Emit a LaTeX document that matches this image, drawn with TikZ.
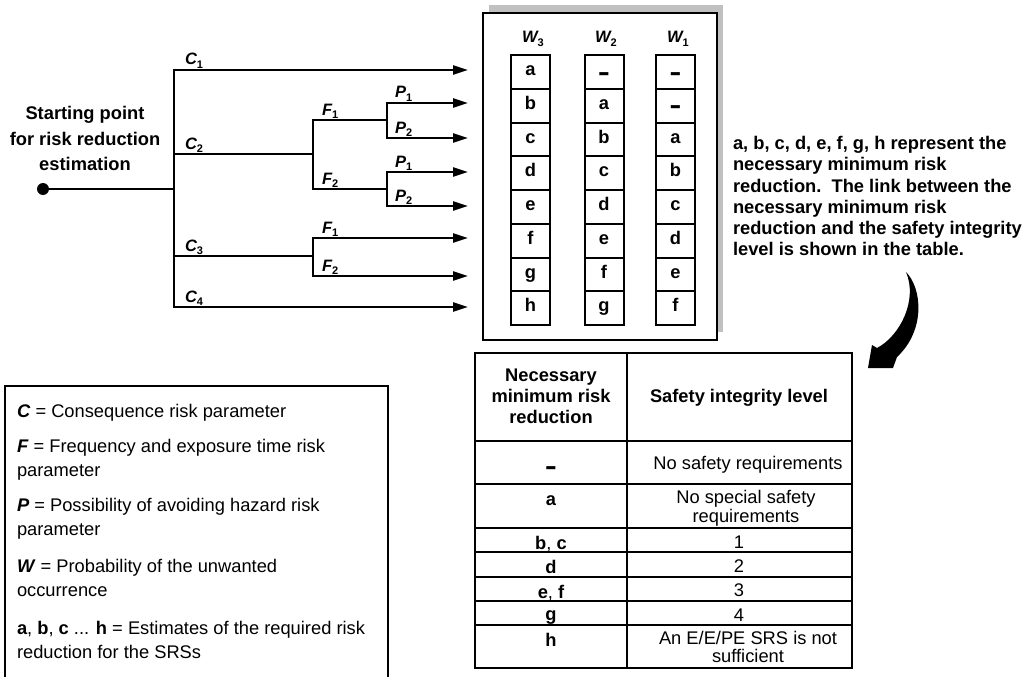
\documentclass[tikz,border=0pt]{standalone}
\usepackage{fontspec}
\setmainfont{Liberation Sans}
\usepackage{graphicx}
\usetikzlibrary{arrows.meta}
\definecolor{shadowgray}{RGB}{192,192,192}
\newcommand{\lsub}[1]{\raisebox{-3.8pt}{\fontsize{11}{11}\selectfont\bfseries\upshape #1}}
\newcommand{\thickdash}{\raisebox{-6.5pt}{\scalebox{1}[1.7]{\bfseries –}}}
\begin{document}
\begin{tikzpicture}[x=1pt,y=-1pt,
  every node/.style={inner sep=0pt,outer sep=0pt},
  tree/.style={line width=2.5pt},
  arr/.style={line width=2.5pt,-{Triangle[length=15pt,width=9pt]}},
  brlab/.style={anchor=base west,font=\fontsize{16.5}{16.5}\selectfont\bfseries\itshape},
  wlab/.style={anchor=base,font=\fontsize{16.5}{16.5}\selectfont\bfseries\itshape},
  cell/.style={draw,line width=2pt,minimum width=39pt,minimum height=33.75pt,
    font=\fontsize{18.3}{20}\selectfont\bfseries,text height=10pt,text depth=2.4pt},
  boldtxt/.style={font=\fontsize{18.3}{21.2}\selectfont\bfseries},
  starttxt/.style={font=\fontsize{18.3}{25.5}\selectfont\bfseries},
  headtxt/.style={font=\fontsize{18.3}{21}\selectfont\bfseries},
  regtxt/.style={font=\fontsize{18.3}{18.5}\selectfont},
  legtxt/.style={font=\fontsize{18.3}{24}\selectfont},
  tbl/.style={line width=2.2pt},
  frame/.style={line width=2pt}
]
\useasboundingbox (0,0) rectangle (1029,677);

% ---------- tree ----------
\node[circle,fill,minimum size=12pt] (start) at (43,189) {};
\coordinate (j0) at (174,189);
\coordinate (jc2) at (313,154);
\coordinate (jc3) at (313,256);
\coordinate (jf1) at (387,120);
\coordinate (jf2) at (387,189);
\coordinate (t1) at (468,70);
\coordinate (t2) at (468,103);
\coordinate (t3) at (468,138);
\coordinate (t4) at (468,172);
\coordinate (t5) at (468,206);
\coordinate (t6) at (468,238);
\coordinate (t7) at (468,276);
\coordinate (t8) at (468,307);

\draw[tree] (start) -- (j0);
\draw[arr] (j0) |- (t1);
\draw[arr] (j0) |- (t8);
\draw[tree] (j0) |- (jc2);
\draw[tree] (j0) |- (jc3);
\draw[tree] (jc2) |- (jf1);
\draw[tree] (jc2) |- (jf2);
\draw[arr] (jf1) |- (t2);
\draw[arr] (jf1) |- (t3);
\draw[arr] (jf2) |- (t4);
\draw[arr] (jf2) |- (t5);
\draw[arr] (jc3) |- (t6);
\draw[arr] (jc3) |- (t7);

\node[brlab] (lc1) at (185,65) {C\lsub{1}};
\node[brlab] (lc2) at (185,149) {C\lsub{2}};
\node[brlab] (lc3) at (185,251) {C\lsub{3}};
\node[brlab] (lc4) at (185,302) {C\lsub{4}};
\node[brlab] (lf1) at (322,115) {F\lsub{1}};
\node[brlab] (lf2) at (322,184) {F\lsub{2}};
\node[brlab] (lf3) at (322,233) {F\lsub{1}};
\node[brlab] (lf4) at (322,271) {F\lsub{2}};
\node[brlab] (lp1) at (395,98) {P\lsub{1}};
\node[brlab] (lp2) at (395,133) {P\lsub{2}};
\node[brlab] (lp3) at (395,167) {P\lsub{1}};
\node[brlab] (lp4) at (395,201) {P\lsub{2}};

\node[starttxt,align=center,anchor=north] (starttext) at (85,106.6)
  {Starting point\\for risk reduction\\estimation};

% ---------- W box ----------
\fill[shadowgray] (489,5) rectangle (723,332);
\draw[frame,fill=white] (483,13) rectangle (717,340);
\node[wlab] (lw3) at (533,43) {W\lsub{3}};
\node[wlab] (lw2) at (606,43) {W\lsub{2}};
\node[wlab] (lw1) at (678,43) {W\lsub{1}};
\foreach \t [count=\i from 0] in {a,b,c,d,e,f,g,h}
  \node[cell] (wa\i) at (530.5,{55+33.75*(\i+0.5)}) {\t};
\foreach \t [count=\i from 0] in {\thickdash,a,b,c,d,e,f,g}
  \node[cell] (wb\i) at (604,{55+33.75*(\i+0.5)}) {\t};
\foreach \t [count=\i from 0] in {\thickdash,\thickdash,a,b,c,d,e,f}
  \node[cell] (wc\i) at (675.5,{55+33.75*(\i+0.5)}) {\t};

% ---------- explanatory text ----------
\node[boldtxt,align=left,anchor=north west] (note) at (733,136.4)
  {a, b, c, d, e, f, g, h represent the\\necessary minimum risk\\reduction.\ \ The link between the\\necessary minimum risk\\reduction and the safety integrity\\level is shown in the table.};

% curved arrow
\fill (906,272) .. controls (922,288) and (926,330) .. (897,357)
  -- (893,368) -- (868,368) -- (872,345) -- (877,348)
  .. controls (900,336) and (918,300) .. (906,272);

% ---------- table ----------
\draw[tbl] (475,353) rectangle (852,668);
\foreach \y in {441,484,528,552,577,601,625}
  \draw[tbl] (475,\y) -- (852,\y);
\draw[tbl] (627,353) -- (627,668);

\node[headtxt,align=center,anchor=north] (hleft) at (551,368.6)
  {Necessary\\minimum risk\\reduction};
\node[headtxt,anchor=base] (hright) at (739,402.6) {Safety integrity level};

\node[headtxt,anchor=base] (r1l) at (551,470) {\thickdash};
\node[headtxt,anchor=base] (r2l) at (551,505) {a};
\node[regtxt,anchor=base] (r3l) at (551,549.5) {\textbf{b}, \textbf{c}};
\node[headtxt,anchor=base] (r4l) at (551,573.5) {d};
\node[regtxt,anchor=base] (r5l) at (551,598.5) {\textbf{e}, \textbf{f}};
\node[headtxt,anchor=base] (r6l) at (551,620) {g};
\node[headtxt,anchor=base] (r7l) at (551,646.5) {h};

\node[regtxt,anchor=base] (r1r) at (748,469.6) {No safety requirements};
\node[regtxt,align=center,anchor=north] (r2r) at (746,490.4) {No special safety\\requirements};
\node[regtxt,anchor=base] (r3r) at (739,548.5) {1};
\node[regtxt,anchor=base] (r4r) at (739,572.5) {2};
\node[regtxt,anchor=base] (r5r) at (739,596.5) {3};
\node[regtxt,anchor=base] (r6r) at (739,621) {4};
\node[regtxt,align=center,anchor=north] (r7r) at (748,631.2) {An E/E/PE SRS is not\\sufficient};

% ---------- legend ----------
\draw[frame] (5,680) -- (5,386) -- (388,386) -- (388,680);
\node[legtxt,anchor=base west] (lgC) at (17,417) {\textbf{\textit{C}} = Consequence risk parameter};
\node[legtxt,align=left,anchor=north west] (lgF) at (17,439.3)
  {\textbf{\textit{F}} = Frequency and exposure time risk\\parameter};
\node[legtxt,align=left,anchor=north west] (lgP) at (17,498.3)
  {\textbf{\textit{P}} = Possibility of avoiding hazard risk\\parameter};
\node[legtxt,align=left,anchor=north west] (lgW) at (17,559.3)
  {\textbf{\textit{W}} = Probability of the unwanted\\occurrence};
\node[legtxt,align=left,anchor=north west] (lga) at (17,621.4)
  {\textbf{a}, \textbf{b}, \textbf{c} ... \textbf{h} = Estimates of the required risk\\reduction for the SRSs};
\end{tikzpicture}
\end{document}
